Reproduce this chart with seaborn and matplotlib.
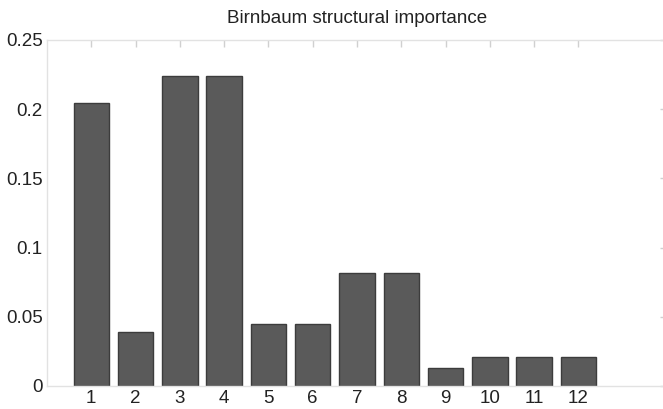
import matplotlib
matplotlib.use("Agg")
import matplotlib.pyplot as plt
import seaborn as sns
import pandas as pd

components = ["1", "2", "3", "4", "5", "6", "7", "8", "9", "10", "11", "12"]
importance = [0.2042, 0.0392, 0.2242, 0.2242, 0.0450, 0.0450,
              0.0813, 0.0813, 0.0132, 0.0209, 0.0209, 0.0209]
yticks = [0, 0.05, 0.1, 0.15, 0.2, 0.25]
ytick_labels = ["0", "0.05", "0.1", "0.15", "0.2", "0.25"]
title = "Birnbaum structural importance"

sns.set_style("white")
plt.rcParams["font.family"] = ["Liberation Sans", "DejaVu Sans"]

df = pd.DataFrame({"component": components, "importance": importance})

fig = plt.figure(figsize=(6.63, 4.09), dpi=100)
ax = fig.add_axes([47 / 663, 23 / 409, 620 / 663, 346 / 409])

sns.barplot(data=df, x="component", y="importance", order=components,
            color="#5a5a5a", saturation=1, width=0.8,
            edgecolor="#3c3c3c", linewidth=1.0, ax=ax)

ax.set_xlim(-1, 13)
ax.set_ylim(0, 0.25)
ax.set_yticks(yticks)
ax.set_yticklabels(ytick_labels)
ax.set_xlabel("")
ax.set_ylabel("")
ax.set_title(title, fontsize=13.5, color="#222222", pad=12)

for s in ax.spines.values():
    s.set_visible(True)
    s.set_color("#e2e2e2")
    s.set_linewidth(1.0)

ax.tick_params(axis="both", which="both", direction="in", length=5,
               width=1, color="#d0d0d0", top=True, right=True,
               labelsize=13.5, labelcolor="#222222", pad=3)

fig.savefig("out.png", dpi=100, facecolor="white")
